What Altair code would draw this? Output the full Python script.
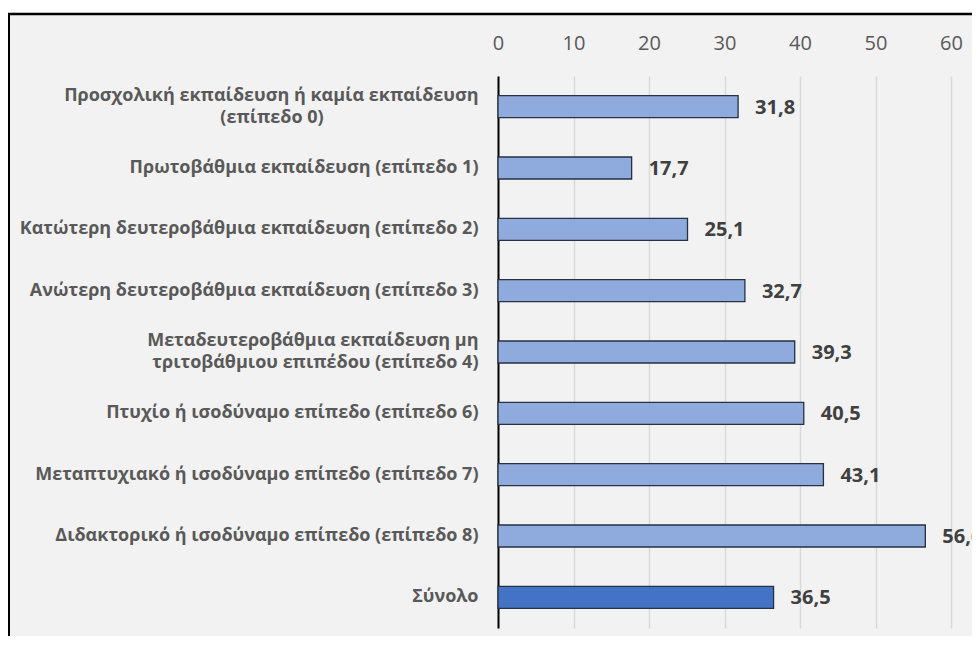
import altair as alt
import pandas as pd

NBSP = "\u00a0"

# Category label lines (multi-line labels as lists)
label_lines = [
    ["Προσχολική εκπαίδευση ή καμία εκπαίδευση", NBSP],
    ["Πρωτοβάθμια εκπαίδευση (επίπεδο 1)"],
    ["Κατώτερη δευτεροβάθμια εκπαίδευση (επίπεδο 2)"],
    ["Ανώτερη δευτεροβάθμια εκπαίδευση (επίπεδο 3)"],
    ["Μεταδευτεροβάθμια εκπαίδευση μη", "τριτοβάθμιου επιπέδου (επίπεδο 4)"],
    ["Πτυχίο ή ισοδύναμο επίπεδο (επίπεδο 6)"],
    ["Μεταπτυχιακό ή ισοδύναμο επίπεδο (επίπεδο 7)"],
    ["Διδακτορικό ή ισοδύναμο επίπεδο (επίπεδο 8)"],
    ["Σύνολο"],
]
# second line of the first label, drawn centred under its first line
first_label_line2 = "(επίπεδο 0)"
values = [31.8, 17.7, 25.1, 32.7, 39.3, 40.5, 43.1, 56.6, 36.5]
kinds = ["level"] * 8 + ["total"]
tick_values = [0, 10, 20, 30, 40, 50, 60]

labels = ["|".join(l) for l in label_lines]
texts = [f"{v:.1f}".replace(".", ",") for v in values]

df = pd.DataFrame({"cat": labels, "value": values, "kind": kinds, "txt": texts})
df_line2 = pd.DataFrame({"cat": [labels[0]], "txt": [first_label_line2]})

FONT = "Open Sans"
GREY = "#595959"

y_enc = alt.Y(
    "cat:N",
    sort=labels,
    scale=alt.Scale(paddingInner=0, paddingOuter=0),
    axis=alt.Axis(
        title=None,
        domain=True,
        domainColor="#000000",
        domainWidth=2,
        ticks=False,
        grid=False,
        labelFont=FONT,
        labelFontWeight="bold",
        labelFontSize=18,
        labelColor=GREY,
        labelPadding=20,
        labelLimit=1000,
        labelLineHeight=22,
        labelExpr="split(datum.label, '|')",
        labelOffset={"condition": {"test": "indexof(datum.label, '|') >= 0", "value": -11}, "value": 0},
    ),
)
x_enc = alt.X(
    "value:Q",
    scale=alt.Scale(domain=[0, 60], nice=False),
    axis=alt.Axis(
        orient="top",
        title=None,
        values=tick_values,
        domain=False,
        ticks=False,
        grid=True,
        gridColor="#d9d9d9",
        gridWidth=1.5,
        labelFont=FONT,
        labelFontSize=20,
        labelColor=GREY,
        labelPadding=23,
        labelFlush=False,
    ),
)

bars = alt.Chart(df).mark_bar(size=22, stroke="#263141", strokeWidth=1.3).encode(
    x=x_enc,
    y=y_enc,
    color=alt.Color(
        "kind:N",
        scale=alt.Scale(domain=["level", "total"], range=["#8FAADC", "#4472C4"]),
        legend=None,
    ),
)

text = alt.Chart(df).mark_text(
    align="left", baseline="middle", dx=17, dy=1,
    font=FONT, fontWeight="bold", fontSize=20, color="#404040",
).encode(x="value:Q", y=alt.Y("cat:N", sort=labels), text="txt:N")

line2 = alt.Chart(df_line2).mark_text(
    align="center", baseline="middle", dy=11,
    font=FONT, fontWeight="bold", fontSize=18, color=GREY,
).encode(x=alt.value(-226), y=alt.Y("cat:N", sort=labels), text="txt:N")

one = alt.Data(values=[{"k": 1}])
top_strip = alt.Chart(one).mark_rect(fill="#ffffff", strokeWidth=0).encode(
    x=alt.value(-500), x2=alt.value(1000), y=alt.value(-80), y2=alt.value(-63)
)
border = alt.Chart(one).mark_rect(fill=None, fillOpacity=0, stroke="#000000", strokeWidth=2.4).encode(
    x=alt.value(-489.2), x2=alt.value(1000), y=alt.value(-62), y2=alt.value(1000)
)

chart = alt.layer(top_strip, bars, text, line2, border).properties(
    width=453,
    height=552,
    autosize=alt.AutoSizeParams(type="none"),
    padding={"left": 490, "top": 68, "right": 21, "bottom": 8},
    background="#f2f2f2",
).configure_view(strokeWidth=0)

chart.save("out.html", embed_options={"renderer": "svg", "actions": False})
